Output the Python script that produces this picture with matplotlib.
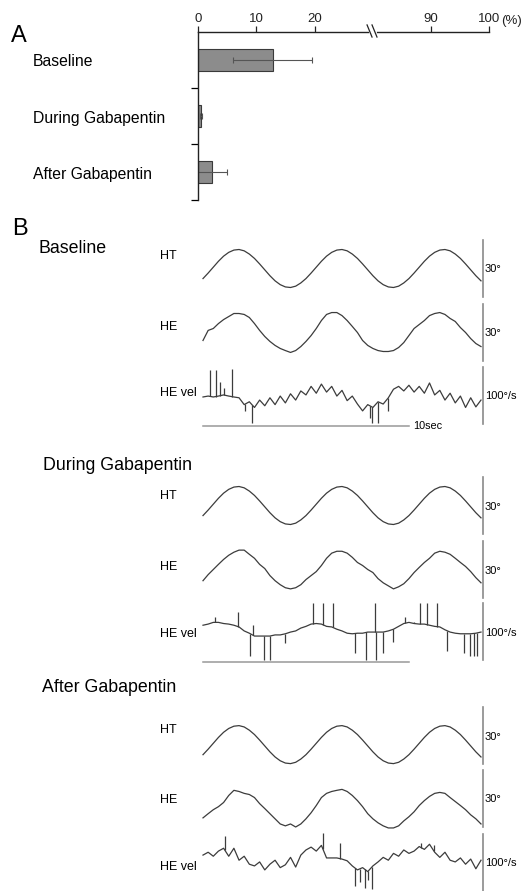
import numpy as np
import matplotlib.pyplot as plt

plt.rcParams['font.family'] = ['Liberation Sans', 'DejaVu Sans']

W, H = 525, 891
fig = plt.figure(figsize=(W / 100, H / 100), dpi=100)


## Panel A data (% of cycles)
groups = ["Baseline", "During Gabapentin", "After Gabapentin"]
pct_mean = [12.8, 0.5, 2.4]
pct_err = [6.8, 0.15, 2.6]
tick_vals = [0, 10, 20, 90, 100]
axis_cut = 30      # axis is broken here
axis_skip = 50     # values past the break are shifted down by this


## Panel B data, sampled every 0.25 s
dt = 0.25
# head turn stimulus (deg), same in every condition
ht = [-5.3, -2.4, 0.7, 3.8, 6.5, 8.5, 9.7, 10.0, 9.3, 7.6, 5.3, 2.4, -0.7, -3.8, -6.5, -8.5, -9.7, -10.0, -9.3, -7.6,
      -5.3, -2.4, 0.7, 3.8, 6.5, 8.5, 9.7, 10.0, 9.3, 7.6, 5.3, 2.4, -0.7, -3.8, -6.5, -8.5, -9.7, -10.0, -9.3, -7.6,
      -5.3, -2.4, 0.7, 3.8, 6.5, 8.5, 9.7, 10.0, 9.3, 7.6, 5.3, 2.4, -0.7, -3.8, -6.5]

# head-eye position (deg)
he_base = [-4.2, 1.1, 2.1, 4.7, 6.8, 8.4, 10.0, 10.0, 9.5, 7.9, 4.7, 1.1, -2.1, -4.7, -6.8, -8.4, -9.5, -10.5, -9.5, -7.4,
           -4.7, -1.6, 2.1, 6.3, 9.5, 10.5, 10.5, 8.9, 6.3, 3.2, 0.0, -4.2, -6.8, -8.4, -9.5, -10.0, -10.0, -9.5, -7.9, -5.3,
           -1.6, 2.1, 4.2, 6.3, 8.9, 10.0, 10.5, 9.5, 7.4, 5.8, 2.6, 0.0, -3.2, -5.8, -7.4]
he_dur = [-5.9, -2.7, 0.0, 2.7, 5.3, 7.5, 9.1, 10.2, 10.2, 8.0, 5.9, 2.7, 0.5, -3.2, -5.9, -8.0, -9.6, -10.2, -9.6, -8.0,
          -5.3, -3.2, -1.1, 2.1, 5.9, 8.6, 9.6, 9.6, 8.6, 6.4, 3.7, 2.1, 0.0, -1.6, -4.8, -7.0, -8.6, -10.2, -9.1, -7.5,
          -4.8, -1.6, 1.1, 3.7, 5.9, 8.6, 9.6, 9.1, 8.0, 5.9, 3.7, 1.6, -1.1, -4.3, -7.0]
he_aft = [-10.2, -8.0, -5.9, -4.3, -2.1, 1.6, 4.3, 3.7, 2.7, 2.1, 0.5, -2.7, -5.3, -8.0, -10.7, -13.4, -14.4, -13.4, -15.0, -13.4,
          -10.7, -7.5, -3.7, 0.5, 2.7, 3.7, 4.3, 4.8, 3.7, 1.6, -1.1, -4.3, -8.0, -10.7, -12.8, -14.4, -15.5, -15.5, -14.4, -11.8,
          -9.6, -7.0, -3.7, -1.1, 1.1, 2.7, 3.2, 2.7, 0.5, -1.6, -3.7, -5.9, -8.6, -10.7, -13.4]

# head-eye velocity (deg/s), slow part
vel_base = [-2.6, -1, -2.6, -1, 1, -1, -2.6, -4, -16, -11, -21, -8, -18, -4, -16, -1, -13, 3, -8, 8,
            1, 16, 4, 20, 6, 16, -1, 9, -9, -1, -15, -27, -16, -21, -11, -15, -4, 11, 16, 8,
            18, 6, 16, 4, 22, 1, 9, -8, 4, -13, -1, -21, -4, -20, -8]
vel_dur = [11, 13, 16, 16, 14, 13, 11, 8, 1, -3, -8, -8, -8, -8, -6, -6, -4, -1, 1, 6,
           9, 13, 14, 13, 9, 8, 4, 1, -3, -4, -3, -3, -1, -1, -1, -1, 1, 4, 9, 14,
           16, 14, 13, 13, 11, 9, 8, 3, -1, -3, -4, -4, -4, -3, -1]
vel_aft = [13, 18, 11, 20, 25, 11, 25, 4, 11, -3, -6, 1, -13, -3, 4, -9, -4, 9, -8, 13,
           22, 27, 20, 30, 8, 8, 8, 6, 3, -6, -13, -9, -16, -6, 1, 9, 4, 16, 11, 22,
           16, 20, 28, 23, 32, 18, 9, 18, 4, 1, 8, -3, 6, -11, 4]

# fast (saccade-like) spikes: time (s) and tip value (deg/s)
spk_base_t = [0.34, 0.63, 0.83, 1.02, 1.41, 2.04, 2.38, 8.1, 8.2, 8.5, 8.98]
spk_base_v = [44, 44, 23, 13, 47, -28, -49, -39, -49, -49, -28]
spk_dur_t = [0.58, 1.70, 2.28, 2.43, 2.96, 3.25, 3.98, 5.34, 5.83, 6.31, 7.38, 7.91, 8.35, 8.40, 8.74,
             9.22, 9.81, 10.24, 10.53, 10.87, 11.36, 11.84, 12.67, 12.96, 13.16, 13.30]
spk_dur_v = [26, 35, -43, 11, -50, -50, -21, 50, 50, 50, -38, -50, 50, -50, -38,
             -18, 26, 16, 50, 50, 50, -35, -38, -43, -43, -43]
spk_aft_t = [1.07, 1.50, 5.83, 6.65, 7.38, 7.62, 7.86, 8.01, 8.20, 10.6, 11.2]
spk_aft_v = [47, 25, 51, 34, -42, -35, -44, -30, -47, 34, 30]

time_bar = [0, 10]  # 10 s calibration


def ftext(x, y, s, **kw):
    fig.text(x / W, 1 - y / H, s, **kw)


def px_axes(x0, y0, x1, y1):
    ax = fig.add_axes([x0 / W, 1 - y1 / H, (x1 - x0) / W, (y1 - y0) / H])
    ax.axis('off')
    return ax


## ---------------- Panel A ----------------
ftext(11, 42, "A", fontsize=17, va='baseline')
axA = fig.add_axes([198 / W, 1 - 200 / H, (489.5 - 198) / W, (200 - 32) / H])
ypos = np.arange(len(groups))
axA.barh(ypos, pct_mean, height=0.41, color='#8c8c8c', edgecolor='#3a3a3a', lw=0.8)
axA.errorbar(pct_mean, ypos, xerr=pct_err, fmt='none', ecolor='#555555',
             elinewidth=0.8, capsize=2, capthick=0.8)
axA.set_xlim(0, 50)
axA.set_ylim(2.5, -0.5)
axA.xaxis.tick_top()
axA.set_xticks([v if v < axis_cut else v - axis_skip for v in tick_vals])
axA.set_xticklabels([str(v) for v in tick_vals])
axA.set_yticks([0.5, 1.5, 2.5])
axA.set_yticklabels([])
axA.tick_params(axis='x', length=4, width=0.9, pad=1, labelsize=9.5, colors='#222222')
axA.tick_params(axis='y', length=5, width=0.9)
for s in ['bottom', 'right']:
    axA.spines[s].set_visible(False)
for s in ['top', 'left']:
    axA.spines[s].set_linewidth(1.0)
    axA.spines[s].set_color('#222222')
# break marks on the top axis
tr = axA.get_xaxis_transform()
axA.plot([29.5, 30.35], [1, 1], color='white', lw=2, transform=tr, clip_on=False, zorder=5)
for x in [29.0, 29.85]:
    axA.plot([x, x + 0.85], [1.042, 0.97], color='#222222', lw=0.9, transform=tr, clip_on=False, zorder=6)
ftext(501, 21, "(%)", fontsize=9.5, va='center', color='#222222')
for g, yy in zip(groups, [61, 118, 175]):
    ftext(33, yy, g, fontsize=11.3, va='center')


## ---------------- Panel B ----------------
ftext(12, 235, "B", fontsize=17, va='baseline')

time = np.arange(len(ht)) * dt
x0, x1 = 203, 481
bar_h = 57
trace_c = '#3c3c3c'
bar_c = '#8a8a8a'

sections = [
    dict(title="Baseline", tx=39, ty=253, tops=[240, 304, 367], ht_off=0,
         he=he_base, vel=vel_base, st=spk_base_t, sv=spk_base_v,
         labels_y=[259, 330, 396], tbar=True, tlabel=True),
    dict(title="During Gabapentin", tx=43, ty=470, tops=[477, 541, 603], ht_off=0,
         he=he_dur, vel=vel_dur, st=spk_dur_t, sv=spk_dur_v,
         labels_y=[499, 570, 637], tbar=True, tlabel=False),
    dict(title="After Gabapentin", tx=42, ty=692, tops=[707, 770, 834], ht_off=4.8,
         he=he_aft, vel=vel_aft, st=spk_aft_t, sv=spk_aft_v,
         labels_y=[733, 803, 870], tbar=False, tlabel=False),
]

for sec in sections:
    ftext(sec['tx'], sec['ty'], sec['title'], fontsize=12.8, va='baseline')
    rows = [("HT", ht, 15, sec['ht_off'], "30°"),
            ("HE", sec['he'], 15, 0, "30°"),
            ("HE vel", sec['vel'], 50, 0, "100°/s")]
    for (name, yvals, half, off, cal), top, ly in zip(rows, sec['tops'], sec['labels_y']):
        ax = px_axes(x0, top, x1, top + bar_h)
        ax.set_xlim(0, time[-1])
        ax.set_ylim(-half + off, half + off)
        ax.plot(time, yvals, color=trace_c, lw=0.9, clip_on=False)
        if name == "HE vel":
            base = np.interp(sec['st'], time, yvals)
            ax.vlines(sec['st'], base, sec['sv'], color=trace_c, lw=0.9, clip_on=False)
            if sec['tbar']:
                ax.plot(time_bar, [-54, -54], color='#999999', lw=1.1, clip_on=False)
            if sec['tlabel']:
                ax.text(time_bar[1] + 0.2, -54, "10sec", fontsize=7.8, va='center', ha='left')
        # calibration bar
        ax.plot([time[-1] + 0.08] * 2, [-half + off, half + off], color=bar_c, lw=1.2, clip_on=False)
        ftext(x1 + 4, top + bar_h / 2 + 1, cal, fontsize=8, va='center')
        ftext(160, ly, name, fontsize=9, va='baseline')

fig.savefig("out.png", dpi=100)
